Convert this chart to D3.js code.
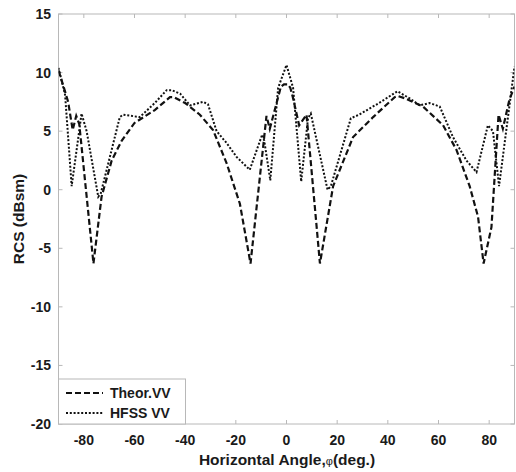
<!DOCTYPE html>
<html>
<head>
<meta charset="utf-8">
<script src="https://cdn.jsdelivr.net/npm/d3@7"></script>
<style>
  body { margin: 0; background: #fff; }
  svg { display: block; }
  text { font-family: "Liberation Sans", Arial, sans-serif; font-weight: bold; fill: #1a1a1a; }
</style>
</head>
<body>
<svg id="chart" width="516" height="472"></svg>
<script>
// ---- data ----
const theorAngle = [-90, -88, -86.2, -84.4, -83, -81.8, -76.2, -73, -69, -65, -60, -52, -46, -44.5, -40, -34.2, -29, -23.7, -18.4, -14.2, -7.9, -6.6, -2.2, -1, 0.5, 1.5, 2.5, 5, 7.9, 13.2, 18.4, 26.3, 34.2, 42.7, 44, 46.7, 53.9, 61.8, 67.1, 72.3, 75.6, 77.8, 80.9, 83.7, 85.4, 88, 90];
const theorVV    = [10.2, 8.8, 7.5, 5.1, 6.3, 5.6, -6.3, -0.6, 2.5, 4.2, 5.7, 6.8, 7.9, 7.9, 7.4, 6.4, 5.1, 2.3, -1.2, -6.3, 6.3, 5.2, 8.8, 9.0, 9.0, 8.7, 7.9, 5.5, 6.4, -6.3, 0.3, 4.5, 6.2, 7.9, 8.0, 7.8, 7.1, 5.5, 3.4, 0.3, -2.3, -6.3, -3.2, 6.4, 5.2, 7.7, 8.8];

const hfssAngle = [-90, -87.4, -84.8, -80.9, -78.9, -74.3, -73.3, -65.8, -64.5, -57.9, -52, -47.3, -45.4, -42, -38.1, -32.9, -31, -27.6, -23.7, -19.7, -14.5, -9.6, -8.8, -6.4, -3.3, 0, 2.6, 5.8, 8.5, 9.6, 16.2, 17.5, 25.4, 28.6, 36.5, 43.8, 48.6, 52.6, 56.5, 60.5, 65.7, 71, 75, 79.5, 81.5, 83.9, 90];
const hfssVV    = [10.4, 8.1, 0.3, 6.5, 5.0, -0.6, -0.3, 6.2, 6.4, 6.2, 7.4, 8.5, 8.5, 8.2, 7.2, 7.5, 7.3, 5.0, 4.0, 2.8, 1.7, 4.7, 4.2, 0.8, 8.7, 10.65, 8.7, 0.7, 6.1, 6.5, 0.0, 0.3, 6.1, 6.4, 7.4, 8.4, 7.8, 7.2, 7.4, 7.1, 4.5, 2.5, 1.5, 5.5, 5.0, 0.3, 10.5];

const xTicks = [-80, -60, -40, -20, 0, 20, 40, 60, 80];
const yTicks = [-20, -15, -10, -5, 0, 5, 10, 15];
const seriesNames = ["Theor.VV", "HFSS VV"];

// ---- layout ----
const svg = d3.select("#chart");
const L = 58.5, R = 514.5, T = 14, B = 424;
const x = d3.scaleLinear().domain([-90, 90]).range([L, R]);
const y = d3.scaleLinear().domain([-20, 15]).range([B, T]);
const axisColor = "#b8b8b8";

// frame
svg.append("rect").attr("x", L).attr("y", T).attr("width", R - L).attr("height", B - T)
  .attr("fill", "#fff").attr("stroke", axisColor).attr("stroke-width", 1);

// ticks (inward on all four sides)
const tl = 4;
const tickG = svg.append("g").attr("stroke", axisColor).attr("stroke-width", 1);
xTicks.forEach(t => {
  tickG.append("line").attr("x1", x(t)).attr("x2", x(t)).attr("y1", B).attr("y2", B - tl);
  tickG.append("line").attr("x1", x(t)).attr("x2", x(t)).attr("y1", T).attr("y2", T + tl);
});
yTicks.forEach(t => {
  tickG.append("line").attr("x1", L).attr("x2", L + tl).attr("y1", y(t)).attr("y2", y(t));
  tickG.append("line").attr("x1", R).attr("x2", R - tl).attr("y1", y(t)).attr("y2", y(t));
});

// tick labels
svg.append("g").selectAll("text").data(xTicks).join("text")
  .attr("x", d => x(d)).attr("y", 445).attr("text-anchor", "middle")
  .style("font-size", "14px").text(d => d);
svg.append("g").selectAll("text").data(yTicks).join("text")
  .attr("x", 51).attr("y", d => y(d) + 5).attr("text-anchor", "end")
  .style("font-size", "14px").text(d => d);

// axis titles
svg.append("text").attr("x", 287).attr("y", 465).attr("text-anchor", "middle")
  .style("font-size", "15.5px")
  .html('Horizontal Angle,<tspan style="font-size:11px;font-weight:normal">φ</tspan>(deg.)');
svg.append("text").attr("transform", "translate(24,219) rotate(-90)")
  .attr("text-anchor", "middle").style("font-size", "15.5px").text("RCS (dBsm)");

// lines
const line = d3.line().x(d => x(d[0])).y(d => y(d[1]));
svg.append("clipPath").attr("id", "clip").append("rect")
  .attr("x", L).attr("y", T).attr("width", R - L).attr("height", B - T);
svg.append("path").datum(theorAngle.map((a, i) => [a, theorVV[i]]))
  .attr("d", line).attr("fill", "none").attr("stroke", "#111").attr("stroke-width", 2.2)
  .attr("stroke-dasharray", "6,3").attr("clip-path", "url(#clip)");
svg.append("path").datum(hfssAngle.map((a, i) => [a, hfssVV[i]]))
  .attr("d", line).attr("fill", "none").attr("stroke", "#111").attr("stroke-width", 2)
  .attr("stroke-dasharray", "2,1.8").attr("clip-path", "url(#clip)");

// legend
const lg = svg.append("g");
lg.append("rect").attr("x", L).attr("y", 379).attr("width", 127).attr("height", B - 379)
  .attr("fill", "#fff").attr("stroke", axisColor).attr("stroke-width", 1);
const dashes = ["6,3", "2,1.8"];
seriesNames.forEach((n, i) => {
  const yy = 393 + i * 20;
  lg.append("line").attr("x1", 66).attr("x2", 103).attr("y1", yy).attr("y2", yy)
    .attr("stroke", "#111").attr("stroke-width", 2).attr("stroke-dasharray", dashes[i]);
  lg.append("text").attr("x", 110).attr("y", yy + 5).style("font-size", "14px").text(n);
});
</script>
</body>
</html>
